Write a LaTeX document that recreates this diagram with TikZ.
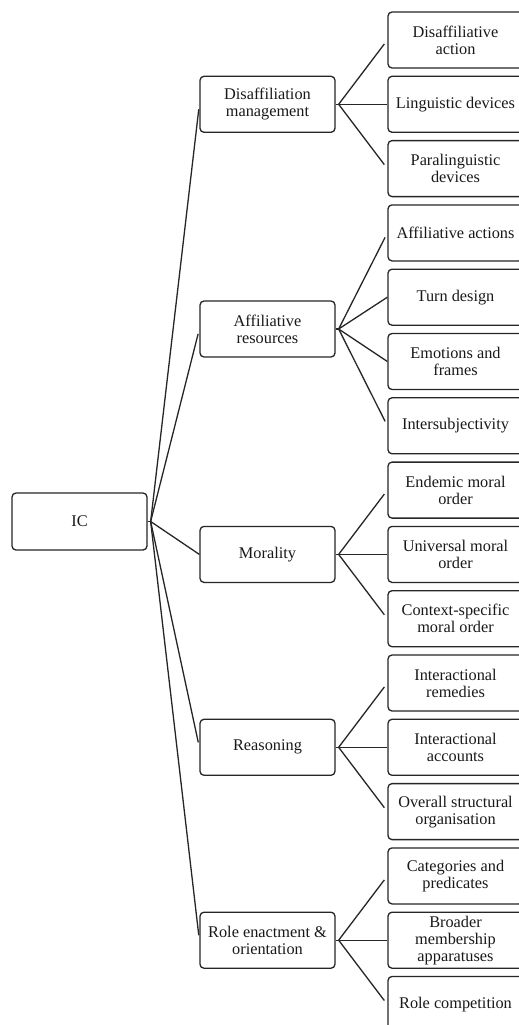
\documentclass[tikz,border=0pt]{standalone}
\usepackage{fontspec}
\setmainfont{Liberation Serif}
\usetikzlibrary{calc}
\begin{document}
\begin{tikzpicture}[x=1pt,y=-1pt,
  box/.style={draw=black!85,line width=1.3pt,rounded corners=4pt,minimum width=135pt,minimum height=56pt,align=center,inner sep=1pt,font=\fontsize{16.3}{17}\selectfont,text=black!90},
  link/.style={draw=black!85,line width=1.3pt},
  outer/.style={link,shorten >=5pt}]
\clip (0,0) rectangle (519,1025);
\fill[white] (0,0) rectangle (519,1025);
% root
\node[box,minimum height=57pt] (ic) at (79.5,521.5) {IC};
% mid level
\node[box] (m1) at (267.5,104.3) {Disaffiliation\\management};
\node[box] (m2) at (267.5,329) {Affiliative\\resources};
\node[box] (m3) at (267.5,554.4) {Morality};
\node[box] (m4) at (267.5,747.3) {Reasoning};
\node[box] (m5) at (267.5,940.2) {Role enactment \&\\orientation};
% leaves
\node[box] (c1) at (455.5,40) {Disaffiliative\\action};
\node[box] (c2) at (455.5,104.3) {Linguistic devices};
\node[box] (c3) at (455.5,168.6) {Paralinguistic\\devices};
\node[box] (c4) at (455.5,232.9) {Affiliative actions};
\node[box] (c5) at (455.5,297.2) {Turn design};
\node[box] (c6) at (455.5,361.5) {Emotions and\\frames};
\node[box] (c7) at (455.5,425.8) {Intersubjectivity};
\node[box] (c8) at (455.5,490.1) {Endemic moral\\order};
\node[box] (c9) at (455.5,554.4) {Universal moral\\order};
\node[box] (c10) at (455.5,618.7) {Context-specific\\moral order};
\node[box] (c11) at (455.5,683) {Interactional\\remedies};
\node[box] (c12) at (455.5,747.3) {Interactional\\accounts};
\node[box] (c13) at (455.5,811.6) {Overall structural\\organisation};
\node[box] (c14) at (455.5,875.9) {Categories and\\predicates};
\node[box] (c15) at (455.5,940.2) {Broader\\membership\\apparatuses};
\node[box] (c16) at (455.5,1004.5) {Role competition};
% fan points
\coordinate (f0) at ($(ic.east)+(3,0)$);
\coordinate (f1) at ($(m1.east)+(3,0)$);
\coordinate (f2) at ($(m2.east)+(3,0)$);
\coordinate (f3) at ($(m3.east)+(3,0)$);
\coordinate (f4) at ($(m4.east)+(3,0)$);
\coordinate (f5) at ($(m5.east)+(3,0)$);
% root connectors
\draw[link] (ic.east) -- (f0);
\draw[outer] (f0) -- (m1.west);
\draw[outer] (f0) -- (m2.west);
\draw[link] (f0) -- (m3.west);
\draw[outer] (f0) -- (m4.west);
\draw[outer] (f0) -- (m5.west);
% mid connectors
\draw[link] (m1.east) -- (f1);
\draw[outer] (f1) -- (c1.west);
\draw[link] (f1) -- (c2.west);
\draw[outer] (f1) -- (c3.west);
\draw[link] (m2.east) -- (f2);
\draw[outer] (f2) -- (c4.west);
\draw[link] (f2) -- (c5.west);
\draw[link] (f2) -- (c6.west);
\draw[outer] (f2) -- (c7.west);
\draw[link] (m3.east) -- (f3);
\draw[outer] (f3) -- (c8.west);
\draw[link] (f3) -- (c9.west);
\draw[outer] (f3) -- (c10.west);
\draw[link] (m4.east) -- (f4);
\draw[outer] (f4) -- (c11.west);
\draw[link] (f4) -- (c12.west);
\draw[outer] (f4) -- (c13.west);
\draw[link] (m5.east) -- (f5);
\draw[outer] (f5) -- (c14.west);
\draw[link] (f5) -- (c15.west);
\draw[outer] (f5) -- (c16.west);
\end{tikzpicture}
\end{document}
